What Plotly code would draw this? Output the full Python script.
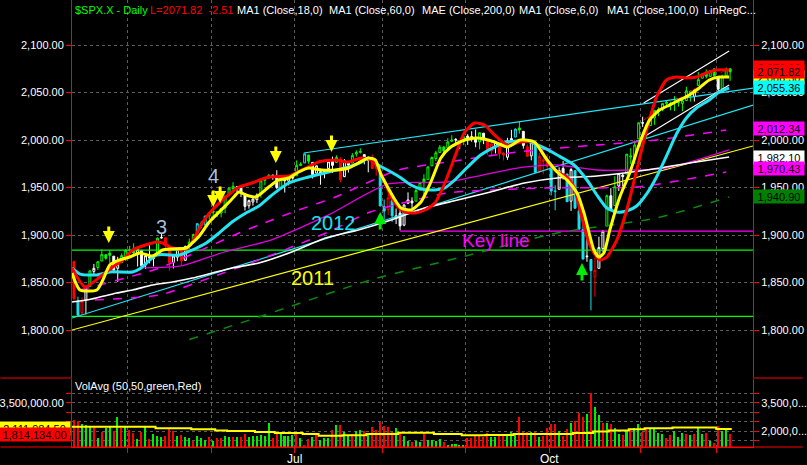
import plotly.graph_objects as go

# ---------------- DATA ----------------
open_ = [
1872.3, 1830.7, 1818.2, 1831.5, 1846.0, 1861.7, 1865.8, 1872.6, 1879.3, 1881.0,
1877.7, 1865.0, 1870.8, 1877.1, 1884.4, 1885.3, 1879.5, 1883.7, 1868.5, 1877.4,
1875.3, 1880.0, 1896.8, 1897.1, 1888.2, 1871.2, 1876.7, 1884.9, 1873.3, 1888.2,
1893.3, 1902.0, 1911.8, 1910.6, 1920.3, 1923.9, 1923.1, 1923.1, 1928.5, 1942.4,
1948.9, 1950.3, 1949.4, 1943.4, 1930.8, 1934.8, 1937.2, 1942.7, 1957.5, 1960.5,
1962.9, 1961.9, 1949.3, 1959.9, 1956.6, 1960.8, 1962.3, 1973.1, 1975.9, 1984.2,
1976.4, 1965.1, 1966.7, 1965.8, 1969.9, 1977.4, 1976.4, 1979.8, 1961.5, 1976.9,
1975.7, 1985.3, 1987.0, 1984.6, 1978.3, 1980.0, 1973.2, 1965.1, 1929.8, 1926.6,
1936.3, 1917.3, 1923.0, 1910.4, 1933.4, 1935.7, 1935.6, 1947.4, 1958.9, 1958.4,
1972.7, 1980.5, 1986.8, 1992.6, 1991.7, 1998.6, 2000.5, 1997.4, 1998.5, 2004.1,
2003.6, 2001.7, 1998.0, 2007.2, 2000.7, 1988.4, 1992.9, 1996.7, 1986.0, 1981.9,
1999.3, 2003.1, 2012.7, 2009.1, 1992.8, 1983.3, 1997.3, 1966.2, 1979.0, 1978.2,
1971.4, 1945.8, 1948.1, 1970.0, 1964.2, 1935.6, 1967.7, 1925.6, 1905.7, 1877.1,
1874.2, 1855.9, 1864.9, 1885.6, 1909.4, 1941.3, 1931.0, 1951.6, 1963.0, 1964.1,
1983.3, 1979.5, 2001.2, 2018.2, 2015.8, 2015.3, 2023.3, 2032.0, 2032.0, 2038.2,
2037.8, 2039.2, 2039.7, 2038.3, 2041.5, 2051.2, 2045.9, 2057.5, 2065.1, 2070.1,
2067.0, 2074.8, 2065.8, 2053.8, 2067.5, 2074.8]

high = [
1872.5, 1835.1, 1834.2, 1844.0, 1862.3, 1869.6, 1871.9, 1884.9, 1879.8, 1884.1,
1877.7, 1877.0, 1880.6, 1885.2, 1888.6, 1891.3, 1885.5, 1883.7, 1879.0, 1889.1,
1878.8, 1897.1, 1902.2, 1897.1, 1888.2, 1878.3, 1886.0, 1884.9, 1888.8, 1896.3,
1901.3, 1912.3, 1914.5, 1920.0, 1924.0, 1925.9, 1925.1, 1928.6, 1941.7, 1949.4,
1955.6, 1950.9, 1949.4, 1943.4, 1937.3, 1941.2, 1943.7, 1957.7, 1959.9, 1963.9,
1963.7, 1968.2, 1960.8, 1959.9, 1961.0, 1964.2, 1978.6, 1976.7, 1985.6, 1984.2,
1976.4, 1973.0, 1969.8, 1968.7, 1979.9, 1982.5, 1983.9, 1981.8, 1979.9, 1976.9,
1986.2, 1989.2, 1991.4, 1984.6, 1981.5, 1984.9, 1978.9, 1965.1, 1937.4, 1942.9,
1936.3, 1927.9, 1928.9, 1932.4, 1944.9, 1939.7, 1948.4, 1955.2, 1964.0, 1972.0,
1982.6, 1988.6, 1994.8, 1993.5, 2001.9, 2005.0, 2002.1, 1998.5, 2003.4, 2006.1,
2009.3, 2011.2, 2007.7, 2007.2, 2001.0, 1996.7, 1997.7, 1996.7, 1987.2, 2002.3,
2010.7, 2012.3, 2019.3, 2009.1, 1995.4, 1999.8, 1997.3, 1986.4, 1981.3, 1985.2,
1971.4, 1952.3, 1971.2, 1977.8, 1964.2, 1970.4, 1967.7, 1936.9, 1912.1, 1898.7,
1874.2, 1876.0, 1898.2, 1905.0, 1942.5, 1949.3, 1961.9, 1965.3, 1964.6, 1985.1,
1991.4, 1999.4, 2018.2, 2024.5, 2016.0, 2023.8, 2031.6, 2034.3, 2038.7, 2041.3,
2040.3, 2046.2, 2042.2, 2043.1, 2056.1, 2052.1, 2053.8, 2071.5, 2070.2, 2074.2,
2073.4, 2075.8, 2065.8, 2068.8, 2076.3, 2075.8]

low = [
1830.9, 1814.4, 1815.8, 1816.3, 1846.0, 1856.7, 1863.2, 1872.6, 1873.9, 1870.2,
1859.7, 1850.6, 1870.8, 1872.7, 1878.0, 1878.5, 1866.8, 1867.7, 1864.2, 1870.1,
1867.0, 1880.0, 1896.1, 1885.8, 1862.4, 1864.8, 1872.4, 1868.1, 1873.3, 1885.4,
1893.3, 1902.0, 1907.3, 1909.8, 1916.6, 1915.9, 1918.8, 1918.6, 1922.9, 1942.4,
1947.2, 1944.6, 1940.1, 1925.8, 1927.7, 1930.9, 1933.6, 1939.3, 1952.3, 1959.2,
1958.2, 1948.3, 1947.5, 1944.7, 1952.2, 1958.2, 1962.3, 1972.6, 1975.9, 1974.9,
1959.5, 1965.1, 1952.9, 1959.7, 1969.9, 1965.3, 1975.7, 1955.6, 1960.8, 1965.8,
1975.7, 1982.4, 1985.8, 1974.4, 1966.0, 1969.9, 1962.4, 1930.0, 1916.4, 1921.2,
1913.8, 1911.5, 1904.8, 1909.2, 1933.4, 1928.3, 1935.6, 1947.4, 1941.5, 1958.4,
1972.7, 1977.7, 1986.8, 1984.8, 1991.7, 1998.6, 1996.2, 1990.5, 1994.6, 1994.9,
1998.2, 1992.4, 1990.1, 1995.6, 1984.6, 1982.9, 1985.9, 1980.3, 1978.5, 1979.1,
1993.3, 2003.1, 2006.6, 1991.0, 1982.4, 1978.6, 1965.1, 1966.2, 1964.0, 1968.0,
1941.7, 1926.0, 1948.1, 1958.4, 1934.9, 1925.3, 1927.6, 1906.1, 1874.1, 1871.8,
1820.7, 1835.0, 1864.9, 1882.3, 1909.4, 1927.1, 1931.0, 1946.3, 1951.4, 1964.1,
1974.8, 1974.8, 2001.2, 2013.7, 2001.0, 2015.3, 2015.9, 2025.1, 2030.2, 2035.3,
2031.3, 2030.4, 2035.2, 2030.2, 2041.5, 2040.4, 2040.5, 2056.8, 2065.1, 2064.8,
2066.9, 2065.1, 2049.6, 2053.8, 2066.7, 2062.3]

close = [
1833.1, 1815.7, 1830.6, 1843.0, 1862.3, 1864.9, 1871.9, 1879.6, 1875.4, 1878.6,
1863.4, 1869.4, 1878.3, 1884.0, 1883.7, 1881.1, 1884.7, 1867.7, 1878.2, 1875.6,
1878.5, 1896.7, 1897.5, 1888.5, 1870.9, 1877.9, 1885.1, 1872.8, 1888.0, 1892.5,
1900.5, 1911.9, 1909.8, 1920.0, 1923.6, 1925.0, 1924.2, 1927.9, 1940.5, 1949.4,
1951.3, 1950.8, 1943.9, 1930.1, 1936.2, 1937.8, 1942.0, 1957.0, 1959.5, 1962.9,
1962.6, 1950.0, 1959.5, 1957.2, 1961.0, 1960.2, 1973.3, 1974.6, 1985.4, 1977.7,
1963.7, 1972.8, 1964.7, 1967.6, 1977.1, 1973.3, 1981.6, 1958.1, 1978.2, 1973.6,
1983.5, 1987.0, 1988.0, 1978.3, 1978.9, 1970.0, 1970.1, 1930.7, 1925.2, 1939.0,
1920.2, 1920.2, 1909.6, 1931.6, 1936.9, 1933.8, 1946.7, 1955.2, 1955.1, 1971.7,
1981.6, 1986.5, 1992.4, 1988.4, 1997.9, 2000.0, 2000.1, 1996.7, 2003.4, 2002.3,
2000.7, 1997.7, 2007.7, 2001.5, 1988.4, 1995.7, 1997.5, 1985.5, 1984.1, 1999.0,
2001.6, 2011.4, 2010.4, 1994.3, 1982.8, 1998.3, 1966.0, 1982.9, 1977.8, 1972.3,
1946.2, 1946.2, 1967.9, 1964.8, 1935.1, 1968.9, 1928.2, 1906.1, 1874.7, 1877.7,
1862.5, 1862.8, 1886.8, 1904.0, 1941.3, 1927.1, 1950.8, 1964.6, 1961.6, 1985.1,
1982.3, 1994.7, 2018.1, 2017.8, 2012.1, 2023.6, 2031.2, 2031.9, 2038.3, 2039.7,
2038.3, 2039.3, 2039.8, 2041.3, 2051.8, 2048.7, 2052.8, 2063.5, 2069.4, 2067.0,
2072.8, 2067.6, 2053.4, 2066.6, 2074.3, 2071.8]

# candle colour group per bar: G green, R red, W white, C cyan
candle_color = ("RCRWGWGGGG" "WWGGGGWWWW" "WGWRRWWRWG" "GCCCGGGGGG" "GWWWWWWGGG"
                "WWGWWWGGCG" "WWWWWWGRWW" "GGGWWRRCCR" "CWWWWWGGGG" "GGGGGGWWGW"
                "WWGWRRWRRW" "WCGWRWCRRR" "CCWWCWCCCW" "CRWWGWGWWG" "GGGWGGGGGG"
                "GGGGGGWGGG" "GGWGGG")

volume_mil = [
2.58, 2.55, 2.37, 2.32, 2.27, 2.23, 1.61, 1.97, 2.14, 2.23,
2.02, 2.72, 2.14, 2.27, 2.05, 1.91, 1.56, 1.93, 2.20, 1.56,
1.84, 1.74, 1.66, 1.74, 2.18, 2.02, 1.74, 1.79, 1.66, 1.61,
1.49, 1.74, 1.61, 1.52, 1.66, 1.49, 1.61, 1.65, 1.74, 1.66,
1.66, 1.70, 1.66, 1.84, 1.66, 1.74, 1.74, 1.79, 1.74, 2.44,
1.61, 1.91, 1.91, 1.74, 1.74, 1.79, 1.91, 1.61, 1.26, 1.56,
1.70, 1.79, 1.52, 1.61, 1.65, 2.05, 2.32, 2.32, 1.97, 1.79,
1.84, 2.02, 2.05, 2.02, 1.79, 2.23, 2.05, 2.50, 2.27, 2.23,
1.97, 2.14, 1.97, 1.74, 1.49, 1.44, 1.47, 1.44, 1.88, 1.52,
1.52, 1.47, 1.58, 1.44, 1.26, 1.31, 1.31, 1.26, 1.26, 1.65,
1.65, 1.74, 1.79, 1.70, 1.91, 1.66, 1.66, 1.79, 1.74, 1.84,
1.95, 1.84, 2.72, 1.93, 1.93, 1.95, 1.93, 1.66, 1.74, 2.14,
2.35, 2.35, 2.00, 1.74, 2.11, 2.44, 2.53, 2.94, 2.76, 2.90,
4.00, 3.25, 2.85, 2.41, 2.44, 2.35, 2.14, 1.84, 1.77, 2.00,
2.11, 2.14, 2.37, 1.97, 2.11, 2.14, 2.14, 1.91, 1.84, 1.65,
1.79, 2.00, 1.70, 1.91, 1.84, 1.79, 1.84, 2.18, 1.84, 1.91,
1.49, 1.38, 2.27, 2.02, 2.11, 1.84]

volume_color = ("RRGGGRGRGG" "RGRGRRGRGR" "GGGRRRGRGG" "RGGGRGRRGG" "RGRRGGGGGG"
                "RRGGGGRGRR" "GRGGGRGRGG" "RGGRGRRRRR" "RGRGGRGGRG" "GGGRGGGGGR"
                "RRRRRGGRRG" "GGRRRGRGRR" "RRGRRGRRRG" "RGGRGRGGRG" "RGGRRGGGGR"
                "RGGGRGRGGR" "GRRGGR")

# 50-bar volume average (step line): start index of each step, value in millions
volavg_i = [-0.5, 20.5, 29.5, 35.5, 38.5, 45.5, 50.5, 57.5, 61.5, 67.5, 73.5, 81.5,
            90.5, 97.5, 103.5, 110.5, 125.5, 130.5, 134.5, 139.5, 143.5, 150.5, 161.5, 165.4]
volavg_mil = [2.23, 2.14, 2.09, 2.02, 2.00, 1.95, 1.89, 1.84, 1.75, 1.77, 1.84, 1.91,
              1.84, 1.77, 1.79, 1.84, 1.89, 1.97, 2.02, 2.09, 2.14, 2.19, 2.11, 2.11]

# moving averages (bar index, price)
ma_red_i = [-0.5, 2.75, 6.5, 9.75, 12.25, 14.75, 20.75, 22.25, 24.75, 28.25, 29.75, 32.25, 34.75,
            38.25, 41.5, 44.75, 49, 54, 57.25, 61.5, 65.75, 69, 72.25, 74.75, 76.5, 78.25, 79.75,
            81.5, 83.25, 85.75, 88.25, 90.75, 93.25, 95.75, 98.25, 100.75, 103.25, 105.75, 109,
            112.25, 115.75, 117.75, 119.75, 122, 124, 125.75, 127.25, 129, 130.75, 132.25, 134,
            136.5, 139, 141.5, 144, 146.5, 149, 151.5, 154, 156.5, 159, 161.5, 164.75]
ma_red_p = [1865.3, 1845.3, 1855.8, 1866.3, 1873.7, 1884.2, 1892.6, 1891.6, 1886.3, 1885.3, 1892.6,
            1912.6, 1926.3, 1940.0, 1950.5, 1954.7, 1961.0, 1962.1, 1968.4, 1976.8, 1979.0, 1976.8,
            1981.1, 1979.0, 1970.5, 1954.7, 1940.0, 1929.5, 1924.2, 1923.2, 1926.3, 1933.7, 1954.7,
            1982.1, 2008.4, 2017.9, 2015.8, 2005.3, 1994.7, 1997.9, 1997.9, 1986.3, 1973.7, 1965.3,
            1961.0, 1950.5, 1926.3, 1897.9, 1881.1, 1873.7, 1876.8, 1894.7, 1926.3, 1968.4, 2010.5,
            2045.3, 2063.2, 2066.3, 2065.3, 2066.3, 2070.5, 2073.7, 2073.7]

ma_yellow_i = [-0.5, 1.5, 5.75, 7.25, 9, 11.5, 14, 16.5, 19.75, 22.25, 24.75, 28.25, 29.75, 31.5,
               34, 36.5, 39.5, 41.5, 43.25, 45.75, 49, 51.5, 54, 56.5, 59, 62.25, 65.75, 69, 71.5,
               74, 75.75, 77.25, 79, 80.75, 82.25, 84.75, 87.25, 89.75, 92.25, 94.75, 98.25, 101.5,
               105.75, 109, 112.25, 115.75, 119, 121.5, 124, 126.5, 128.25, 130.75, 132, 133.25,
               134.75, 137.25, 139.75, 142.25, 144.75, 147.25, 149.75, 152.25, 154.75, 157.25,
               159.75, 162.25, 164.75]
ma_yellow_p = [1860.0, 1842.1, 1842.1, 1852.6, 1868.4, 1873.7, 1876.8, 1881.1, 1877.9, 1884.2,
               1885.3, 1886.3, 1891.6, 1898.9, 1913.7, 1924.2, 1936.8, 1945.3, 1942.1, 1940.0,
               1950.5, 1957.9, 1960.0, 1966.3, 1970.5, 1968.4, 1968.4, 1970.5, 1975.8, 1981.1,
               1979.0, 1963.2, 1949.5, 1936.8, 1928.4, 1926.3, 1934.7, 1955.8, 1981.1, 1992.6,
               2000.0, 2002.1, 1997.9, 1992.6, 2000.0, 1997.9, 1978.9, 1966.3, 1957.9, 1944.2,
               1923.2, 1884.2, 1876.8, 1881.1, 1905.3, 1940.0, 1965.3, 1996.8, 2021.1, 2031.6,
               2036.8, 2042.1, 2047.4, 2054.7, 2063.2, 2066.3, 2066.3]

ma_cyan_i = [-0.5, 1.5, 5.75, 9, 14.75, 16.5, 20.75, 26.5, 29.75, 33.25, 36.5, 39.75, 43.25, 46.5,
             49.5, 54, 59, 64, 69, 72.25, 74, 76.5, 79.75, 82.25, 84.75, 87.25, 90.75, 93.25, 95.75,
             99, 102.25, 105.75, 109, 114, 118.25, 121.5, 125.75, 129, 131.5, 134, 136.5, 139,
             141.5, 144, 146.5, 149, 151.5, 154, 156.5, 159.75, 162.25, 164.75]
ma_cyan_p = [1865.3, 1858.9, 1857.9, 1861.1, 1861.1, 1864.2, 1878.9, 1878.9, 1884.2, 1891.6, 1902.1,
             1913.7, 1923.2, 1930.5, 1941.1, 1954.7, 1961.1, 1966.3, 1971.6, 1976.8, 1981.1, 1973.7,
             1966.3, 1960.0, 1952.6, 1948.4, 1947.4, 1949.5, 1957.9, 1971.6, 1984.2, 1992.6, 1997.9,
             1998.9, 1991.6, 1984.2, 1973.7, 1957.9, 1942.1, 1928.4, 1924.2, 1925.3, 1930.5, 1943.2,
             1961.1, 1983.2, 2006.3, 2023.2, 2033.7, 2042.1, 2050.5, 2054.7]

ma_white_i = [-0.5, 3.25, 6.5, 10.75, 14.75, 19.75, 24.75, 29.75, 34.75, 39.75, 46.5, 54.75, 63.25,
              71.5, 79.75, 88.25, 96.5, 104.75, 113.25, 121.5, 131.5, 144, 156.5, 164.75]
ma_white_p = [1829.5, 1831.6, 1834.7, 1838.9, 1842.1, 1847.4, 1850.5, 1854.7, 1860.0, 1865.3, 1870.5,
              1882.1, 1896.8, 1905.3, 1915.8, 1928.4, 1936.8, 1945.3, 1954.7, 1960.0, 1962.1, 1968.4,
              1976.8, 1982.1]

ma_green_i = [29, 46.5, 74.5, 96.5, 121.5, 146.5, 164.75]
ma_green_p = [1790.0, 1813.7, 1852.6, 1875.8, 1902.1, 1917.9, 1940.0]

env_upper_i = [1.5, 21.5, 41.5, 47.75, 56.5, 65.75, 81.5, 94, 111.5, 131.5, 146.5, 164]
env_upper_p = [1842.1, 1865.3, 1902.1, 1912.6, 1926.3, 1940.0, 1968.4, 1976.8, 1987.4, 1994.7, 2000.0, 2010.5]
env_lower_i = [5.25, 21.5, 34, 47.75, 64, 74.5, 94, 119, 141.5, 164]
env_lower_p = [1831.6, 1836.8, 1854.7, 1875.8, 1903.2, 1924.2, 1944.2, 1949.5, 1950.5, 1966.3]
env_mid_i = [17, 27, 37.75, 49.5, 64, 79, 94, 111.5, 121.5, 131.5, 149, 164.75]
env_mid_p = [1865.3, 1867.4, 1882.1, 1894.7, 1921.1, 1953.7, 1955.8, 1970.5, 1973.7, 1968.4, 1970.5, 1989.5]

# drawn trend lines (bar index, price)
chan_upper_i = [57.75, 170.75]
chan_upper_p = [1986.3, 2054.7]
chan_lower_i = [-0.5, 170.75]
chan_lower_p = [1812.6, 2036.8]
line_2011_i = [-0.5, 170.75]
line_2011_p = [1800.0, 1993.7]
linreg_i = [143.25, 164.75]
linreg_upper_p = [2039.0, 2093.7]
linreg_mid_p = [2021.1, 2075.8]
linreg_lower_p = [2003.2, 2057.9]
support_levels = [1884.0, 1814.4]
key_line_level = 1904.0
key_line_start = 82
x_end = 170.75

# month boundaries and labels
month_tick_idx = [13.5, 34.5, 55.5, 77.5, 98.5, 119.5, 142.5, 161.5]
month_labels = ["", "", "Jul", "", "", "Oct", "", ""]
price_ticks = [1800, 1850, 1900, 1950, 2000, 2050, 2100]

# markers on the chart
down_arrow_i = [8.75, 35, 36.75, 50.75, 64.75]
down_arrow_p = [1891.6, 1929.5, 1933.7, 1975.8, 1987.4]
up_arrow_i = [77, 127.75]
up_arrow_p = [1924.2, 1870.5]
text_labels = [("2012", 65.25, 1912.6, "#14e4f0", 20), ("2011", 60, 1854.7, "#ffff00", 20),
               ("Key line", 106, 1894.7, "#ff00ff", 19), ("3", 22, 1908.4, "#a9bedd", 20),
               ("4", 35, 1962.1, "#a9bedd", 20)]

# value boxes on the right price scale (drawn in this order)
right_box_values = [2076.1, 2066.3, 2071.82, 2055.36, 1982.1, 2012.34, 1970.43, 1940.9]
right_box_colors = ["#ff0000", "#ffff00", "#ff0000", "#00ffff", "#ffffff", "#ff00ff", "#ff00ff", "#008000"]
left_vol_box_values = [2111984.50, 1814134.00]
left_vol_box_colors = ["#ffff00", "#ff0000"]

header_items = [("$SPX.X - Daily", "#00ff00", 73), ("L=2071.82  -2.51", "#ff0000", 148),
                ("MA1 (Close,18,0)", "#ffffff", 236), ("MA1 (Close,60,0)", "#ffffff", 328),
                ("MAE (Close,200,0)", "#ffffff", 422), ("MA1 (Close,6,0)", "#ffffff", 520),
                ("MA1 (Close,100,0)", "#ffffff", 608), ("LinRegC...", "#ffffff", 706)]

# ---------------- FIGURE ----------------
assert len(open_) == len(high) == len(low) == len(close) == len(candle_color) == len(volume_mil) == len(volume_color)

W, H = 807, 465
ML, MR, MT, MB = 72, 50, 0, 18
PW, PH = W - ML - MR, H - MT - MB
price_bottom_px = 378
vol_top_px = 379
price_dom = [(PH - price_bottom_px) / PH, 1.0]
vol_dom = [0.0, (PH - vol_top_px) / PH]
price_range = [1749.47, 2147.37]
vol_range = [1.152e6, 4.756e6]
x_range = [-0.5, x_end]

FONT = "Liberation Sans, Arial, sans-serif"
GRID = "#5c5c5c"
n = len(close)
idx = list(range(n))

fig = go.Figure()

def line(xs, ys, color, width, dash="solid", shape="linear", xa="x2", ya="y"):
    fig.add_trace(go.Scatter(x=xs, y=ys, mode="lines", xaxis=xa, yaxis=ya,
                             line=dict(color=color, width=width, dash=dash, shape=shape, smoothing=0.6),
                             hoverinfo="skip", showlegend=False))

# horizontal levels and trend lines
for lv in support_levels:
    line([x_range[0], x_end], [lv, lv], "#00ff00", 1.2)
line([key_line_start, x_end], [key_line_level, key_line_level], "#ff00ff", 1.2)
line(chan_upper_i, chan_upper_p, "#22e4f2", 1.2)
line(chan_lower_i, chan_lower_p, "#22e4f2", 1.2)
line(line_2011_i, line_2011_p, "#ffff00", 1.2)
line(ma_green_i, ma_green_p, "#0a8a0a", 1.5, dash="dash", shape="spline")
line(env_upper_i, env_upper_p, "#ff00ff", 1.5, dash="dash", shape="spline")
line(env_lower_i, env_lower_p, "#ff00ff", 1.5, dash="dash", shape="spline")
line(env_mid_i, env_mid_p, "#e000e0", 1.3, shape="spline")
line(ma_white_i, ma_white_p, "#ffffff", 1.6, shape="spline")
line(linreg_i, linreg_upper_p, "#ffffff", 1.1)
line(linreg_i, linreg_lower_p, "#ffffff", 1.1)
line(linreg_i, linreg_mid_p, "#c00000", 1.0, dash="dash")

# candles, one trace per colour group
color_map = {"G": "#00ff00", "R": "#ff0000", "W": "#ffffff", "C": "#14e4f0"}
for code, col in color_map.items():
    sel = [k for k in idx if candle_color[k] == code]
    fig.add_trace(go.Candlestick(
        x=sel, open=[open_[k] for k in sel], high=[high[k] for k in sel],
        low=[low[k] for k in sel], close=[close[k] for k in sel],
        xaxis="x2", yaxis="y", whiskerwidth=0,
        increasing=dict(line=dict(color=col, width=1), fillcolor="rgba(0,0,0,0)"),
        decreasing=dict(line=dict(color=col, width=1), fillcolor=col),
        hoverinfo="skip", showlegend=False))

# main moving averages
line(ma_cyan_i, ma_cyan_p, "#22e4f2", 3, shape="spline")
line(ma_red_i, ma_red_p, "#ff0000", 3, shape="spline")
line(ma_yellow_i, ma_yellow_p, "#ffff00", 3, shape="spline")

# invisible traces so the right-hand overlay axes exist
fig.add_trace(go.Scatter(x=[idx[-1]], y=[close[-1]], xaxis="x2", yaxis="y3", mode="markers",
                         marker=dict(opacity=0), hoverinfo="skip", showlegend=False))

# volume
vol_cols = ["#00ee00" if c == "G" else "#ff0000" for c in volume_color]
fig.add_trace(go.Bar(x=idx, y=[v * 1e6 for v in volume_mil], marker=dict(color=vol_cols, line=dict(width=0)),
                     width=0.38, xaxis="x", yaxis="y2", hoverinfo="skip", showlegend=False))
fig.add_trace(go.Scatter(x=volavg_i, y=[v * 1e6 for v in volavg_mil], mode="lines", xaxis="x", yaxis="y2",
                         line=dict(color="#ffff00", width=2, shape="hv"), hoverinfo="skip", showlegend=False))
fig.add_trace(go.Scatter(x=[idx[-1]], y=[volume_mil[-1] * 1e6], xaxis="x", yaxis="y4", mode="markers",
                         marker=dict(opacity=0), hoverinfo="skip", showlegend=False))

ann = []
for t, c, px in header_items:
    ann.append(dict(text=t, x=(px - ML) / PW, y=1 - 10 / PH, xref="paper", yref="paper",
                    xanchor="left", yanchor="middle", showarrow=False,
                    font=dict(family=FONT, size=11, color=c)))
ann.append(dict(text="VolAvg (50,50,green,Red)", x=1 / PW, y=1 - 386 / PH, xref="paper", yref="paper",
                xanchor="left", yanchor="middle", showarrow=False,
                font=dict(family=FONT, size=11, color="#ffffff")))
# month labels below the axis
for xi, lab in zip(month_tick_idx, month_labels):
    if lab:
        ann.append(dict(text=lab, x=xi, y=-12 / PH, xref="x", yref="paper", xanchor="center",
                        yanchor="middle", showarrow=False, font=dict(family=FONT, size=12, color="#ffffff")))
for t, xi, yp, c, fs in text_labels:
    ann.append(dict(text=t, x=xi, y=yp, xref="x2", yref="y", showarrow=False,
                    font=dict(family=FONT, size=fs, color=c)))
for xi, yp in zip(down_arrow_i, down_arrow_p):
    ann.append(dict(text="", x=xi, y=yp, xref="x2", yref="y", showarrow=True, ax=0, ay=-18,
                    arrowhead=2, arrowsize=0.8, arrowwidth=3, arrowcolor="#ffff00"))
for xi, yp in zip(up_arrow_i, up_arrow_p):
    ann.append(dict(text="", x=xi, y=yp, xref="x2", yref="y", showarrow=True, ax=0, ay=19,
                    arrowhead=2, arrowsize=0.8, arrowwidth=3, arrowcolor="#00ee00"))
for v, c in zip(right_box_values, right_box_colors):
    ann.append(dict(text=f"{v:,.2f}", x=1, y=v, xref="paper", yref="y", xanchor="left", yanchor="middle",
                    xshift=0, showarrow=False, bgcolor=c, width=50, height=13, borderpad=0, align="center",
                    font=dict(family=FONT, size=11, color="#000000")))
for v, c in zip(left_vol_box_values, left_vol_box_colors):
    ann.append(dict(text=f"{v:,.2f}", x=0, y=v, xref="paper", yref="y2", xanchor="right", yanchor="middle",
                    xshift=-1, showarrow=False, bgcolor=c, width=71, height=13, borderpad=0, align="center",
                    font=dict(family=FONT, size=11, color="#000000")))

shapes = [
    dict(type="line", xref="paper", yref="paper", x0=-ML / PW, x1=0, y0=price_dom[0], y1=price_dom[0],
         line=dict(color="red", width=1)),
    dict(type="line", xref="paper", yref="paper", x0=1, x1=1 + MR / PW, y0=price_dom[0], y1=price_dom[0],
         line=dict(color="red", width=1)),
    dict(type="line", xref="paper", yref="paper", x0=-ML / PW, x1=1 + MR / PW, y0=0, y1=0,
         line=dict(color="red", width=1)),
]

axis_common = dict(zeroline=False, tickfont=dict(family=FONT, size=11, color="#ffffff"),
                   ticks="outside", ticklen=5, tickcolor="#ff0000", tickwidth=1)

fig.update_layout(
    width=W, height=H, margin=dict(l=ML, r=MR, t=MT, b=MB, pad=0),
    paper_bgcolor="#000000", plot_bgcolor="#000000", showlegend=False,
    font=dict(family=FONT, size=11, color="#ffffff"),
    boxmode="overlay", bargap=0,
    xaxis=dict(domain=[0, 1], anchor="y2", range=x_range, tickmode="array", tickvals=month_tick_idx,
               ticktext=["" for _ in month_tick_idx], showgrid=True, gridcolor=GRID, griddash="dot", gridwidth=1,
               showline=True, linecolor="#ff0000", linewidth=1, rangeslider=dict(visible=False),
               **axis_common),
    xaxis2=dict(domain=[0, 1], anchor="y", range=x_range, tickmode="array", tickvals=month_tick_idx,
                showticklabels=False, ticks="", showgrid=True, gridcolor=GRID, griddash="dot", gridwidth=1,
                showline=False, zeroline=False, rangeslider=dict(visible=False)),
    yaxis=dict(domain=price_dom, anchor="x2", range=price_range, tickmode="array", tickvals=price_ticks,
               tickformat=",.2f", showgrid=True, gridcolor=GRID, griddash="dot", gridwidth=1,
               showline=True, linecolor="#ff0000", linewidth=1, **axis_common),
    yaxis3=dict(overlaying="y", side="right", anchor="x2", range=price_range, tickmode="array",
                tickvals=price_ticks, tickformat=",.2f", showgrid=False, showline=True,
                linecolor="#ff0000", linewidth=1, **axis_common),
    yaxis2=dict(domain=vol_dom, anchor="x", range=vol_range, tickmode="array", tickvals=[2.0e6, 3.5e6],
                ticktext=["2,000,000.00", "3,500,000.00"], showgrid=True, gridcolor=GRID, griddash="dot",
                showline=True, linecolor="#ff0000", linewidth=1,
                minor=dict(tickvals=[1.5e6, 2.5e6, 3.0e6, 4.0e6], ticks="outside", ticklen=5,
                           tickcolor="#ff0000", showgrid=True, gridcolor=GRID, griddash="dot"),
                **axis_common),
    yaxis4=dict(overlaying="y2", side="right", anchor="x", range=vol_range, tickmode="array",
                tickvals=[2.0e6, 3.5e6], ticktext=["2,000,0...", "3,500,0..."], showgrid=False,
                showline=True, linecolor="#ff0000", linewidth=1,
                minor=dict(tickvals=[1.5e6, 2.5e6, 3.0e6, 4.0e6], ticks="outside", ticklen=5,
                           tickcolor="#ff0000"),
                **axis_common),
    annotations=ann, shapes=shapes,
)

# remove the browser's default page margin so the figure sits at the window's top-left corner
fig.write_html("out.html", config={"displayModeBar": False},
               post_script="document.body.style.margin='0';document.body.style.padding='0';"
                           "document.body.style.overflow='hidden';")
